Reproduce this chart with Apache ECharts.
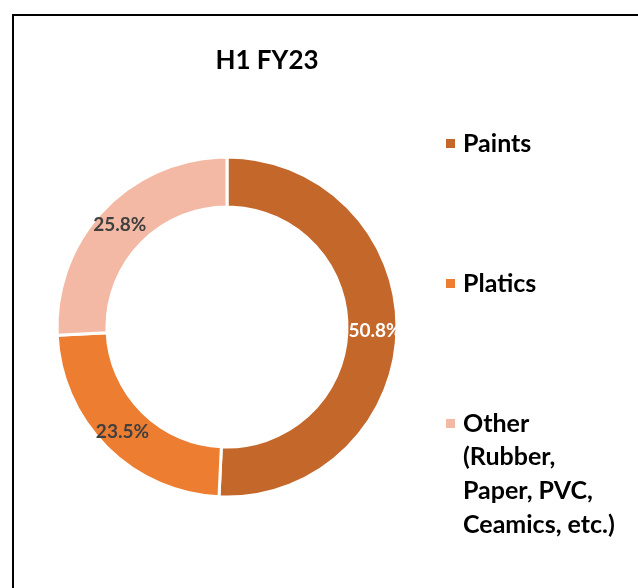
<!DOCTYPE html>
<html>
<head>
<meta charset="utf-8">
<script src="https://cdn.jsdelivr.net/npm/echarts@6/dist/echarts.min.js"></script>
<style>
  html, body { margin: 0; padding: 0; background: #fff; }
  #chart { width: 638px; height: 588px; }
</style>
</head>
<body>
<div id="chart"></div>
<script>
  // data
  const categories = ["Paints", "Platics", "Other"];
  const shares = [50.8, 23.5, 25.8];
  const colors = ["#C4672A", "#ED7D31", "#F4B9A4"];
  const labelColors = ["#ffffff", "#404040", "#404040"];
  const otherDetail = "(Rubber,\nPaper, PVC,\nCeamics, etc.)";

  const font = "Lato";

  let myChart = echarts.init(document.getElementById("chart"));
  let option;

  option = {
    animation: false,
    title: {
      text: "H1 FY23",
      left: 262,
      top: 43,
      textAlign: "center",
      textStyle: {
        fontFamily: font,
        fontSize: 26,
        fontWeight: "bold",
        color: "#000",
      },
    },
    legend: {
      orient: "vertical",
      left: 439,
      top: 126,
      itemWidth: 15,
      itemHeight: 11,
      itemGap: 115,
      icon: "path://M0,0h11v11h-11z",
      data: categories,
      textStyle: {
        fontFamily: font,
        fontSize: 25,
        fontWeight: "bold",
        color: "#000",
        lineHeight: 25,
      },
    },
    graphic: [
      {
        type: "rect",
        shape: { x: 13, y: 15, width: 700, height: 700 },
        style: { fill: "none", stroke: "#000", lineWidth: 2 },
        silent: true,
      },
      {
        type: "text",
        x: 463,
        y: 440,
        style: {
          text: otherDetail,
          fontFamily: font,
          fontSize: 25,
          fontWeight: "bold",
          lineHeight: 34,
          fill: "#000",
          verticalAlign: "top",
        },
      },
    ],
    series: [
      {
        type: "pie",
        center: [227, 327],
        radius: [120, 170],
        startAngle: 90,
        clockwise: true,
        avoidLabelOverlap: false,
        itemStyle: { borderColor: "#fff", borderWidth: 3 },
        label: {
          show: true,
          position: "inside",
          fontFamily: font,
          fontSize: 19,
          fontWeight: "bold",
          formatter: (p) => p.value.toFixed(1) + "%",
        },
        labelLine: { show: false },
        emphasis: { disabled: true },
        data: categories.map((c, i) => ({
          name: c,
          value: shares[i],
          itemStyle: { color: colors[i] },
          label: { color: labelColors[i] },
        })),
      },
    ],
  };

  option && myChart.setOption(option);
</script>
</body>
</html>
